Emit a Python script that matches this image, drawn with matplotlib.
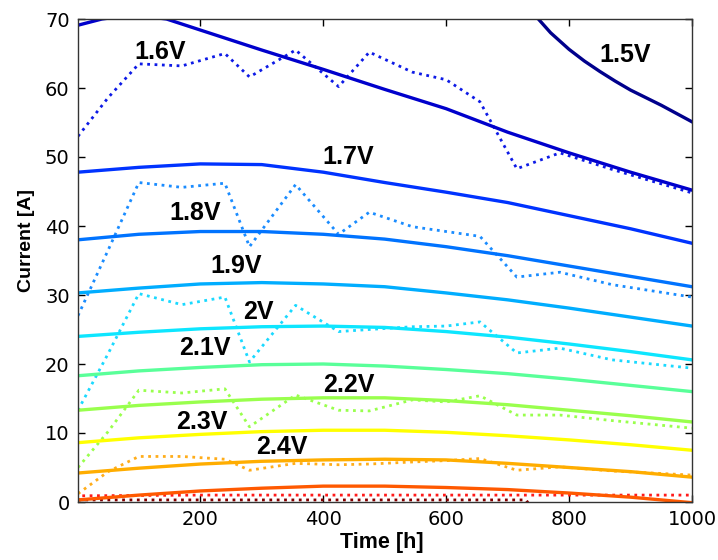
import matplotlib
matplotlib.use("Agg")
import matplotlib.pyplot as plt

# model curves (solid), current [A] read every 100 h
t_model = [1, 100, 200, 300, 400, 500, 600, 700, 800, 900, 1000]
i_17 = [47.8, 48.5, 49.0, 48.9, 47.8, 46.3, 44.9, 43.4, 41.5, 39.6, 37.5]
i_18 = [38.0, 38.8, 39.2, 39.2, 38.8, 38.1, 37.0, 35.7, 34.2, 32.7, 31.2]
i_19 = [30.3, 31.0, 31.6, 31.8, 31.6, 31.2, 30.3, 29.3, 28.1, 26.8, 25.5]
i_20 = [24.0, 24.6, 25.1, 25.4, 25.5, 25.3, 24.7, 23.9, 22.9, 21.8, 20.6]
i_21 = [18.3, 19.0, 19.5, 19.9, 20.0, 19.7, 19.2, 18.6, 17.8, 16.9, 16.0]
i_22 = [13.3, 14.0, 14.5, 14.9, 15.1, 15.1, 14.7, 14.1, 13.3, 12.5, 11.6]
i_23 = [8.6, 9.3, 9.8, 10.2, 10.4, 10.4, 10.1, 9.6, 9.0, 8.3, 7.5]
i_24 = [4.2, 4.9, 5.5, 5.9, 6.1, 6.2, 6.1, 5.6, 5.0, 4.4, 3.6]
i_25 = [0.3, 1.0, 1.6, 2.0, 2.3, 2.3, 2.1, 1.8, 1.3, 0.7, -0.1]

t_16 = [1, 40, 90, 145, 200, 300, 400, 500, 600, 700, 800, 900, 1000]
i_16 = [69.1, 70.0, 70.6, 70.0, 68.4, 65.5, 62.7, 59.8, 57.0, 53.6, 50.6, 47.8, 45.2]

t_15 = [740, 770, 800, 825, 850, 875, 900, 950, 1000]
i_15 = [71.0, 68.0, 65.6, 63.9, 62.4, 61.0, 59.7, 57.5, 55.1]

# measured curves (dotted)
t_meas = [1, 50, 100, 170, 240, 280, 355, 425, 475, 545, 600, 655, 715, 785, 870, 1000]
m_16 = [53.0, 58.6, 63.5, 63.2, 65.0, 61.6, 65.5, 60.2, 65.2, 62.3, 61.2, 58.0, 48.3, 50.6, 48.2, 44.8]
m_18 = [27.0, 36.5, 46.3, 45.6, 46.2, 37.0, 46.0, 38.8, 42.0, 39.9, 39.2, 38.5, 32.6, 33.3, 31.5, 29.7]
m_20 = [13.3, 21.5, 30.2, 28.6, 29.7, 20.3, 28.5, 24.7, 25.0, 25.4, 25.5, 26.1, 21.6, 22.3, 20.6, 19.4]
m_22 = [5.0, 10.2, 16.2, 15.8, 16.4, 10.9, 15.5, 13.3, 13.2, 14.8, 14.5, 15.4, 12.6, 12.6, 11.8, 10.7]
m_24 = [1.2, 4.4, 6.6, 6.6, 6.2, 4.6, 5.6, 5.4, 5.5, 5.8, 6.0, 6.3, 4.6, 5.1, 4.5, 3.9]

t_m26 = [8, 200, 500, 800, 1000]
m_26 = [0.9, 1.0, 1.0, 1.0, 1.0]
t_m28 = [1, 400, 730, 740]
m_28 = [0.3, 0.3, 0.3, -1.0]

labels = ["1.5V", "1.6V", "1.7V", "1.8V", "1.9V", "2V", "2.1V", "2.2V", "2.3V", "2.4V"]
label_t = [892, 135, 440, 192, 259, 295, 208, 441, 202, 332]
label_i = [64.8, 65.2, 50.0, 41.9, 34.2, 27.5, 22.3, 17.0, 11.6, 8.0]

fig = plt.figure(figsize=(7.18, 5.6), dpi=100)
ax = fig.add_axes([78 / 718, 1 - 502 / 560, 614 / 718, 483 / 560])

lw = 2.4
ax.plot(t_meas, m_16, ":", color=(0.05, 0.1, 0.9), lw=2)
ax.plot(t_meas, m_18, ":", color=(0.1, 0.55, 1.0), lw=2)
ax.plot(t_meas, m_20, ":", color=(0.1, 0.85, 1.0), lw=2)
ax.plot(t_meas, m_22, ":", color=(0.6, 1.0, 0.3), lw=2)
ax.plot(t_meas, m_24, ":", color=(1.0, 0.68, 0.1), lw=2)
ax.plot(t_m26, m_26, ":", color=(1.0, 0.1, 0.1), lw=2)
ax.plot(t_m28, m_28, ":", color=(0.5, 0.0, 0.0), lw=2)

ax.plot(t_15, i_15, color=(0.0, 0.0, 0.55), lw=lw)
ax.plot(t_16, i_16, color=(0.0, 0.0, 0.8), lw=lw)
ax.plot(t_model, i_17, color=(0.0, 0.2, 1.0), lw=lw)
ax.plot(t_model, i_18, color=(0.0, 0.45, 1.0), lw=lw)
ax.plot(t_model, i_19, color=(0.0, 0.68, 1.0), lw=lw)
ax.plot(t_model, i_20, color=(0.05, 0.9, 1.0), lw=lw)
ax.plot(t_model, i_21, color=(0.35, 1.0, 0.6), lw=lw)
ax.plot(t_model, i_22, color=(0.6, 1.0, 0.3), lw=lw)
ax.plot(t_model, i_23, color=(1.0, 1.0, 0.0), lw=lw)
ax.plot(t_model, i_24, color=(1.0, 0.68, 0.0), lw=lw)
ax.plot(t_model, i_25, color=(1.0, 0.35, 0.0), lw=lw)

for s, x, y in zip(labels, label_t, label_i):
    ax.text(x, y, s, ha="center", va="center", fontsize=18, fontweight="bold",
            family="Liberation Sans", color="black")

ax.set_xlim(1, 1000)
ax.set_ylim(0, 70)
ax.set_xticks([200, 400, 600, 800, 1000])
ax.set_yticks(range(0, 71, 10))
ax.tick_params(direction="in", top=True, right=True, length=5, width=1,
               labelsize=14, pad=6, colors="black")
for sp in ax.spines.values():
    sp.set_color("#333333")
    sp.set_linewidth(1)

ax.set_xlabel("Time [h]", fontsize=15.5, fontweight="bold", family="Liberation Sans")
ax.set_ylabel("Current [A]", fontsize=14, fontweight="bold", family="Liberation Sans")
ax.xaxis.set_label_coords(0.494, -0.062)
ax.xaxis.label.set_va("top")
ax.yaxis.set_label_coords(-0.07, 0.542)

fig.savefig("out.png", dpi=100)
